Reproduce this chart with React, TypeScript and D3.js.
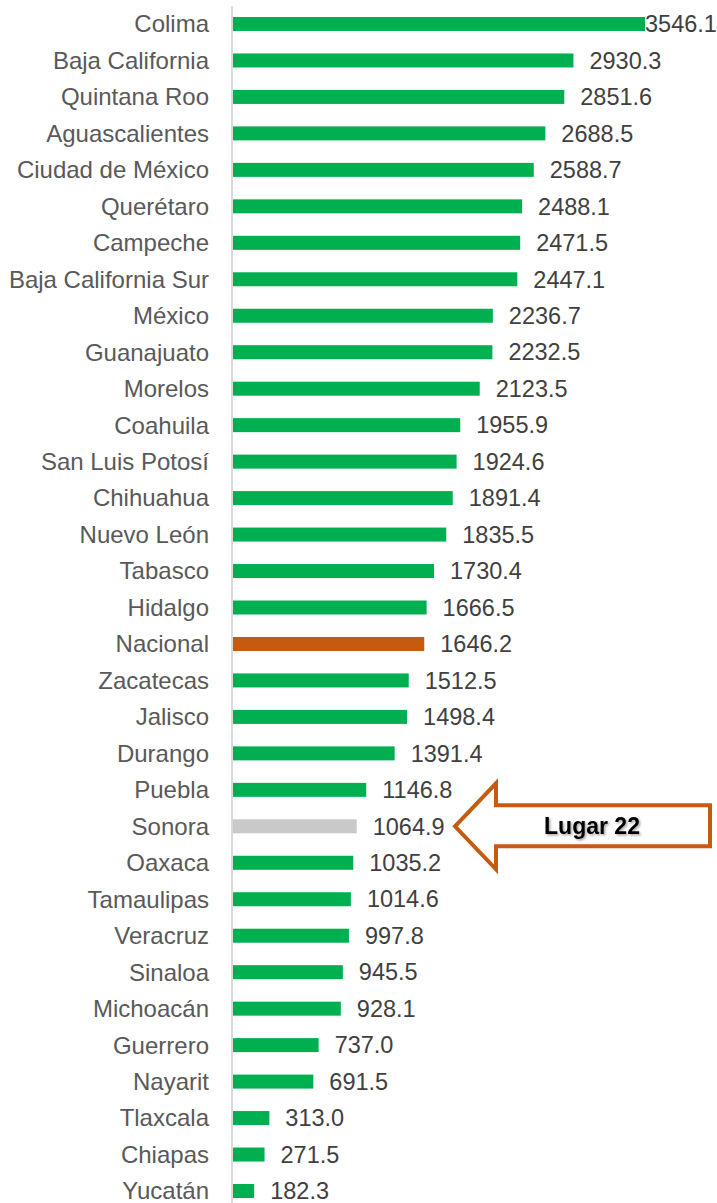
import React, { useEffect, useRef } from 'react';
import * as d3 from 'd3';

const categories = [
  'Colima', 'Baja California', 'Quintana Roo', 'Aguascalientes', 'Ciudad de México',
  'Querétaro', 'Campeche', 'Baja California Sur', 'México', 'Guanajuato', 'Morelos',
  'Coahuila', 'San Luis Potosí', 'Chihuahua', 'Nuevo León', 'Tabasco', 'Hidalgo',
  'Nacional', 'Zacatecas', 'Jalisco', 'Durango', 'Puebla', 'Sonora', 'Oaxaca',
  'Tamaulipas', 'Veracruz', 'Sinaloa', 'Michoacán', 'Guerrero', 'Nayarit',
  'Tlaxcala', 'Chiapas', 'Yucatán',
];

const values = [
  3546.1, 2930.3, 2851.6, 2688.5, 2588.7, 2488.1, 2471.5, 2447.1, 2236.7, 2232.5,
  2123.5, 1955.9, 1924.6, 1891.4, 1835.5, 1730.4, 1666.5, 1646.2, 1512.5, 1498.4,
  1391.4, 1146.8, 1064.9, 1035.2, 1014.6, 997.8, 945.5, 928.1, 737.0, 691.5,
  313.0, 271.5, 182.3,
];

const highlightNational = 'Nacional';
const highlightState = 'Sonora';
const annotationText = 'Lugar 22';

const W = 717;
const H = 1203;

export default function App() {
  const svgRef = useRef<SVGSVGElement>(null);

  useEffect(() => {
    if (!svgRef.current) return;
    const svg = d3.select(svgRef.current);
    svg.selectAll('*').remove();

    const axisX = 232;
    const x = d3.scaleLinear().domain([0, 3546.1]).range([axisX + 1, 645]);
    const y = d3.scalePoint<string>().domain(categories).range([24, 1191]);
    const barH = 14;
    const font = '"Liberation Sans", Arial, sans-serif';

    const defs = svg.append('defs');
    const f = defs.append('filter').attr('id', 'shadow').attr('x', '-20%').attr('y', '-30%')
      .attr('width', '140%').attr('height', '160%');
    f.append('feDropShadow').attr('dx', 1.5).attr('dy', 1.5).attr('stdDeviation', 1)
      .attr('flood-color', '#000').attr('flood-opacity', 0.35);

    const data = categories.map((c, i) => ({ c, v: values[i] }));

    // Bars
    svg.append('g').selectAll('rect').data(data).join('rect')
      .attr('x', x(0))
      .attr('y', d => (y(d.c) as number) - barH / 2)
      .attr('width', d => x(d.v) - x(0))
      .attr('height', barH)
      .attr('fill', d => d.c === highlightNational ? '#c55a11' : d.c === highlightState ? '#c9c9c9' : '#00b050');

    // Axis line
    svg.append('line')
      .attr('x1', axisX).attr('x2', axisX).attr('y1', 6).attr('y2', H)
      .attr('stroke', '#d9d9d9').attr('stroke-width', 2);

    // Category labels
    svg.append('g').selectAll('text').data(data).join('text')
      .attr('x', 209)
      .attr('y', d => y(d.c) as number)
      .attr('dy', '0.35em')
      .attr('text-anchor', 'end')
      .attr('font-family', font)
      .attr('font-size', 24)
      .attr('fill', '#595959')
      .text(d => d.c);

    // Value labels
    svg.append('g').selectAll('text').data(data).join('text')
      .attr('x', d => Math.min(x(d.v) + 16, W - 72))
      .attr('y', d => y(d.c) as number)
      .attr('dy', '0.35em')
      .attr('font-family', font)
      .attr('font-size', 23.5)
      .attr('fill', '#404040')
      .text(d => d.v.toFixed(1));

    // Annotation arrow pointing at Sonora
    const cy = y(highlightState) as number;
    const tipX = 455;
    const headX = 496;
    const rightX = 710;
    const pts: [number, number][] = [
      [tipX, cy],
      [headX, cy - 43],
      [headX, cy - 21],
      [rightX, cy - 21],
      [rightX, cy + 20],
      [headX, cy + 20],
      [headX, cy + 43],
    ];
    svg.append('path')
      .attr('d', d3.line()(pts) + 'Z')
      .attr('fill', '#fff')
      .attr('stroke', '#c55a11')
      .attr('stroke-width', 4)
      .attr('stroke-linejoin', 'miter');

    svg.append('text')
      .attr('x', 592)
      .attr('y', cy)
      .attr('dy', '0.35em')
      .attr('text-anchor', 'middle')
      .attr('font-family', font)
      .attr('font-weight', 'bold')
      .attr('font-size', 23)
      .attr('fill', '#000')
      .attr('filter', 'url(#shadow)')
      .text(annotationText);
  }, []);

  return (
    <div style={{ position: 'absolute', left: 0, top: 0 }}>
      <svg ref={svgRef} width={W} height={H} style={{ display: 'block' }} />
    </div>
  );
}
